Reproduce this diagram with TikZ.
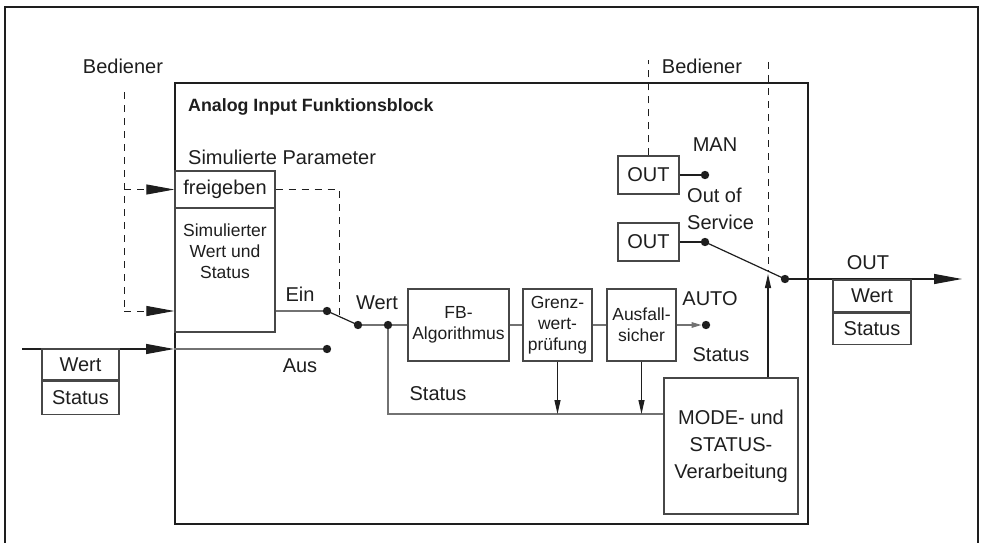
\documentclass[tikz,border=0pt]{standalone}
\usepackage{fontspec}
\setmainfont{Liberation Sans}
\usetikzlibrary{arrows.meta}
\definecolor{ink}{HTML}{1E1E1E}
\definecolor{edge}{HTML}{474747}
\definecolor{wire}{HTML}{727272}

\begin{document}
\begin{tikzpicture}[x=1pt,y=-1pt,
  every node/.style={inner sep=0pt, text=ink},
  lbl/.style={font=\fontsize{20}{27}\selectfont},
  smalllbl/.style={font=\fontsize{17.5}{21}\selectfont},
  box/.style={draw=edge, line width=1.3pt},
  dot/.style={circle, minimum size=8.5pt, inner sep=0pt},
  wireline/.style={draw=wire, line width=1.4pt},
  inkline/.style={draw=ink, line width=1.2pt},
  dashline/.style={draw=ink, line width=1pt, dash pattern=on 7pt off 6pt},
  bigtip/.tip={Triangle[length=28pt,width=10pt]},
  smalltip/.tip={Triangle[length=14pt,width=6pt]},
  autotip/.tip={Triangle[length=10pt,width=5.5pt]}
]
\useasboundingbox (0,0) rectangle (985,543);

% outer frame (open at the bottom)
\coordinate (f0) at (4.5,543);
\coordinate (f1) at (4.5,7.5);
\coordinate (f2) at (978,7.5);
\coordinate (f3) at (978,543);
\draw[draw=ink, line width=2pt] (f0) -- (f1) -- (f2) -- (f3);

% function block
\node[draw=ink, line width=1.8pt, minimum width=633pt, minimum height=441pt] (aifb) at (491.5,303.5) {};
\node[anchor=west, font=\bfseries\fontsize{17.8}{20}\selectfont] (title) at (188,107) {Analog Input Funktionsblock};
\node[lbl, anchor=west] (simpar) at (188,157) {Simulierte Parameter};

% simulation block
\node[box, lbl, minimum width=100pt, minimum height=37pt] (frei) at (225,189.5) {freigeben};
\node[box, minimum width=100pt, minimum height=124pt] (sim) at (225,270) {};
\node[smalllbl, align=center] (simtxt) at (225,251) {Simulierter\\Wert und\\Status};

% operator on the left
\node[lbl] (bedL) at (123,66) {Bediener};
\coordinate (bl0) at (124,92);
\coordinate (bl1) at (124,189.5);
\coordinate (bl2) at (124,311);
\draw[dashline] (bl0) -- (bl2);
\draw[dashline, -bigtip] (bl1) -- (frei.west);
\draw[dashline, -bigtip] (bl2) -- (sim.west |- bl2);

% enable link to the switch
\coordinate (fr1) at (339,189.5);
\coordinate (fr2) at (339,317);
\draw[dashline] (frei.east) -- (fr1) -- (fr2);

% contact points (filled at the end, above the wires)
\node[dot] (eindot) at (327,311) {};
\node[dot] (ausdot) at (327,349) {};
\node[dot] (swdot) at (358,325) {};
\node[dot] (wdot) at (388,325) {};
\node[dot] (autodot) at (706,325) {};
\node[dot] (mandot) at (705,175) {};
\node[dot] (oosdot) at (705,242) {};
\node[dot] (outdot) at (785,279) {};

% Ein / Aus switch
\draw[wireline] (sim.east |- eindot) -- (eindot.center);
\node[lbl] (einlbl) at (300,294) {Ein};
\coordinate (inL) at (22,349);
\draw[inkline, -bigtip] (inL) -- (aifb.west |- inL);
\draw[wireline] (aifb.west |- inL) -- (ausdot.center);
\node[lbl] (auslbl) at (300,366) {Aus};
\draw[inkline] (eindot.center) -- (swdot.center);
\node[lbl] (wertlbl) at (377,303) {Wert};

% input value/status
\node[box, lbl, minimum width=77pt, minimum height=31pt] (wertL) at (80.5,364.5) {Wert};
\node[box, lbl, minimum width=77pt, minimum height=33pt, anchor=north] (statusL) at (wertL.south) {Status};

% processing chain
\node[box, smalllbl, align=center, minimum width=101pt, minimum height=72pt] (fb) at (458.5,325) {FB-\\Algorithmus};
\node[box, smalllbl, align=center, minimum width=69pt, minimum height=72pt] (grenz) at (557.5,325) {Grenz-\\wert-\\prüfung};
\node[box, smalllbl, align=center, minimum width=69pt, minimum height=72pt] (ausf) at (641.5,325) {Ausfall-\\sicher};
\draw[wireline] (swdot.center) -- (wdot.center) -- (fb.west);
\draw[wireline] (fb.east) -- (grenz.west);
\draw[wireline] (grenz.east) -- (ausf.west);

% AUTO contact
\draw[wireline, -autotip] (ausf.east) -- (autodot.west);
\node[lbl] (autolbl) at (710,299) {AUTO};
\node[lbl] (stlblR) at (721,355) {Status};

% mode and status processing
\node[box, lbl, align=center, minimum width=134pt, minimum height=136pt] (mode) at (731,446) {MODE- und\\STATUS-\\Verarbeitung};
\coordinate (stc) at (388,414);
\draw[wireline] (wdot.center) -- (stc) -- (stc -| mode.west);
\draw[inkline, -smalltip] (grenz.south) -- (grenz.south |- stc);
\draw[inkline, -smalltip] (ausf.south) -- (ausf.south |- stc);
\node[lbl] (stlblL) at (438,394) {Status};
\coordinate (upTip) at (768,274);
\draw[inkline, -smalltip] (mode.north -| upTip) -- (upTip);

% MAN and Out of Service
\node[box, lbl, minimum width=61pt, minimum height=38pt] (outman) at (648.5,175) {OUT};
\node[box, lbl, minimum width=61pt, minimum height=38pt] (outoos) at (648.5,242) {OUT};
\draw[inkline] (outman.east) -- (mandot.center);
\draw[inkline] (outoos.east) -- (oosdot.center);
\node[lbl] (manlbl) at (715,145) {MAN};
\node[lbl, anchor=west, align=left] (ooslbl) at (687,208.5) {Out of\\Service};

% operator on the right
\node[lbl] (bedR) at (702,66) {Bediener};
\coordinate (dm0) at (648.5,60);
\draw[dashline] (outman.north) -- (dm0);
\coordinate (dr0) at (768,62);
\coordinate (dr1) at (768,272);
\draw[dashline] (dr0) -- (dr1);

% output switch and output
\draw[inkline] (oosdot.center) -- (outdot.center);
\coordinate (outTip) at (962,279);
\draw[inkline, -bigtip] (outdot.center) -- (outTip);
\node[lbl] (outlbl) at (868,263) {OUT};
\node[box, lbl, minimum width=78pt, minimum height=32pt] (wertR) at (872,296) {Wert};
\node[box, lbl, minimum width=78pt, minimum height=31pt, anchor=north] (statusR) at (wertR.south) {Status};

% contact points on top of the wires
\foreach \p in {eindot,ausdot,swdot,wdot,autodot,mandot,oosdot,outdot}
  \fill[ink] (\p.center) circle (4.2pt);
\end{tikzpicture}
\end{document}
